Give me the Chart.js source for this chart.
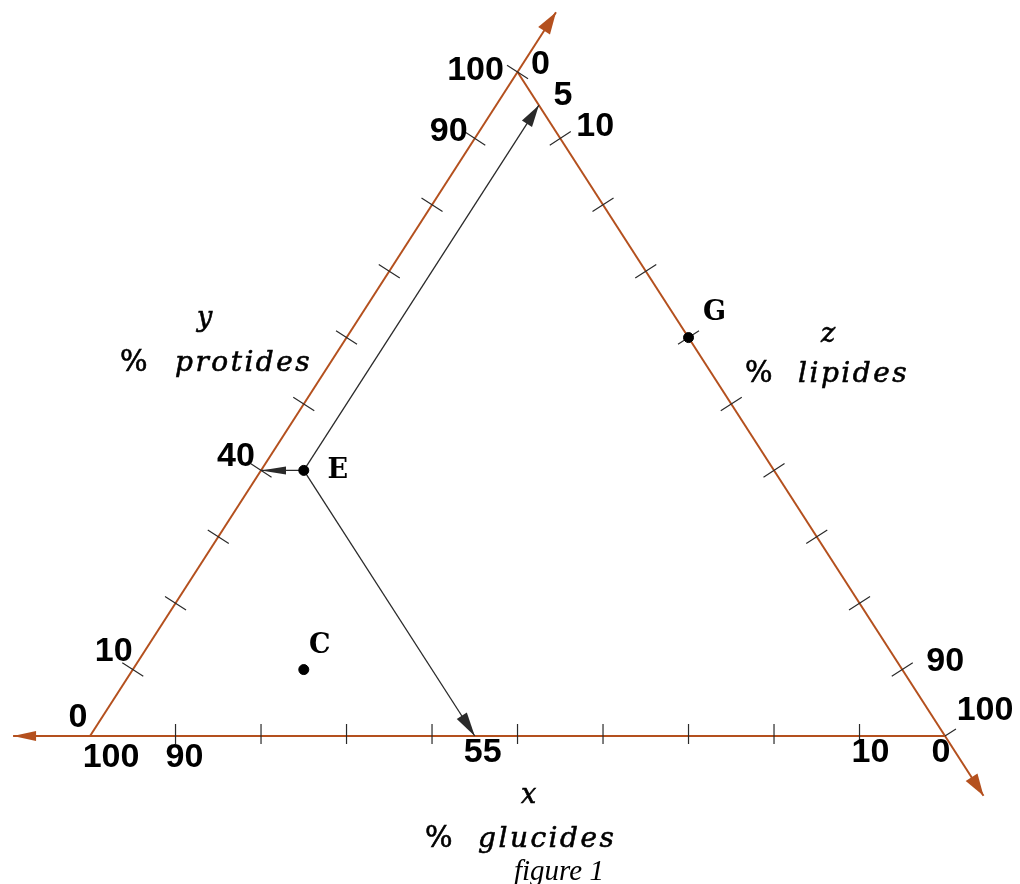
<!DOCTYPE html>
<html>
<head>
<meta charset="utf-8">
<script src="https://cdn.jsdelivr.net/npm/chart.js@4/dist/chart.umd.min.js"></script>
<style>
  html, body { margin: 0; padding: 0; background: #fff; }
  canvas { display: block; }
</style>
</head>
<body>
<canvas id="ternaire" width="1020" height="884"></canvas>
<script>
// points du diagramme (en %)
const pointNames = ['C', 'E', 'G'];
const glucides = [70, 55, 0];   // x
const protides = [10, 40, 60];  // y
const lipides = [20, 5, 40];    // z

// graduations et étiquettes des axes
const tickSteps = [10, 20, 30, 40, 50, 60, 70, 80, 90];
const glucidesLabels = [100, 90, 55, 10, 0];
const protidesLabels = [0, 10, 40, 90, 100];
const lipidesLabels = [0, 5, 10, 90, 100];
const axisOvershoot = 9;

// fenêtre des échelles
const X_MIN = -10.53, X_MAX = 108.77, Y_MIN = -22.29, Y_MAX = 110.84;
const W = 1020, H = 884;
const kx = W / (X_MAX - X_MIN), ky = H / (Y_MAX - Y_MIN);

const AXIS = '#b4501e';
const INK = '#2a2a2a';

// (x, y, z) -> coordonnées du plan
function tern(x, y, z) {
    return { x: z + y / 2, y: y };
}
const onGlucides = v => tern(v, 0, 100 - v);
const onProtides = v => tern(100 - v, v, 0);
const onLipides = v => tern(0, 100 - v, v);

// normale extérieure (en pixels) d'un côté parcouru a -> b
function normal(a, b) {
    const px = (b.x - a.x) * kx, py = -(b.y - a.y) * ky;
    const l = Math.hypot(px, py);
    return { x: -py / l, y: px / l };
}
function ticks(values, place, n, inner, outer) {
    const out = [];
    values.forEach(v => {
        const p = place(v);
        out.push({ x: p.x - n.x * inner / kx, y: p.y + n.y * inner / ky });
        out.push({ x: p.x + n.x * outer / kx, y: p.y - n.y * outer / ky });
        out.push({ x: p.x, y: null });
    });
    return out;
}

const B = onGlucides(100), R = onLipides(100), T = onProtides(100);
const nBottom = normal(B, R), nRight = normal(R, T), nLeft = normal(T, B);

const tickData = [].concat(
    ticks(tickSteps, onGlucides, nBottom, 12, 8),
    ticks(tickSteps.concat([100]), onProtides, nLeft, 12.5, 12.5),
    ticks(tickSteps, onLipides, nRight, 12.5, 12.5),
    ticks([100], onLipides, nRight, 0, 13)
);

const points = pointNames.map((n, i) => tern(glucides[i], protides[i], lipides[i]));
const e = pointNames.indexOf('E');
const E = { x: glucides[e], y: protides[e], z: lipides[e] };

const line = (data, color, width, arrow) => ({
    data: data, showLine: true, borderColor: color, backgroundColor: color,
    borderWidth: width, pointRadius: 0, spanGaps: false, arrow: arrow
});

const datasets = [
    { data: points, showLine: false, pointRadius: 5, pointHoverRadius: 5,
      backgroundColor: '#000', borderColor: '#000' },
    line([points[e], tern(E.x + E.z, E.y, 0)], INK, 1.3, { len: 25, half: 4 }),
    line([points[e], tern(E.x, 0, E.y + E.z)], INK, 1.3, { len: 24, half: 6 }),
    line([points[e], tern(0, E.x + E.y, E.z)], INK, 1.3, { len: 22, half: 6 }),
    line(tickData, INK, 1.2),
    line([R, tern(100 + axisOvershoot, 0, -axisOvershoot)], AXIS, 2, { len: 23, half: 5 }),
    line([B, tern(-axisOvershoot, 100 + axisOvershoot, 0)], AXIS, 2, { len: 22, half: 7 }),
    line([T, tern(0, -axisOvershoot, 100 + axisOvershoot)], AXIS, 2, { len: 22, half: 7 })
];

// étiquettes : décalage en pixels depuis le point d'ancrage
const numFont = 'bold 34px "Liberation Sans", Arial, sans-serif';
const glucidesOffsets = [[21, 22], [9, 22], [8, 17], [11, 17], [-4, 17]];
const protidesOffsets = [[-12, -18], [-19, -18], [-25, -14], [-26, -7], [-42, -1]];
const lipidesOffsets = [[23, -7], [24, -10], [35, -12], [43, -8], [40, -25]];
const pointOffsets = [[16, -24], [34, 1], [26, -25]];

const arrowPlugin = {
    id: 'arrows',
    afterDatasetsDraw(chart) {
        const ctx = chart.ctx;
        chart.data.datasets.forEach((ds, i) => {
            if (!ds.arrow) return;
            const pts = chart.getDatasetMeta(i).data;
            const a = pts[pts.length - 2], b = pts[pts.length - 1];
            const ang = Math.atan2(b.y - a.y, b.x - a.x);
            const { len, half } = ds.arrow;
            ctx.save();
            ctx.translate(b.x, b.y);
            ctx.rotate(ang);
            ctx.fillStyle = ds.borderColor;
            ctx.beginPath();
            ctx.moveTo(0, 0);
            ctx.lineTo(-len, -half);
            ctx.lineTo(-len, half);
            ctx.closePath();
            ctx.fill();
            ctx.restore();
        });
    }
};

const labelPlugin = {
    id: 'labels',
    afterDraw(chart) {
        const ctx = chart.ctx;
        const sx = chart.scales.x, sy = chart.scales.y;
        const put = (text, p, off, font) => {
            ctx.font = font;
            ctx.fillText(text, sx.getPixelForValue(p.x) + off[0], sy.getPixelForValue(p.y) + off[1]);
        };
        ctx.save();
        ctx.fillStyle = '#000';
        ctx.textAlign = 'center';
        ctx.textBaseline = 'middle';
        glucidesLabels.forEach((v, i) => put(String(v), onGlucides(v), glucidesOffsets[i], numFont));
        protidesLabels.forEach((v, i) => put(String(v), onProtides(v), protidesOffsets[i], numFont));
        lipidesLabels.forEach((v, i) => put(String(v), onLipides(v), lipidesOffsets[i], numFont));
        pointNames.forEach((n, i) => put(n, points[i], pointOffsets[i], 'bold 27px "DejaVu Serif", serif'));

        // titres des axes
        ctx.textAlign = 'left';
        ctx.textBaseline = 'alphabetic';
        ctx.strokeStyle = '#000';
        ctx.lineWidth = 0.6;
        const txt = (s, x, y) => { ctx.fillText(s, x, y); ctx.strokeText(s, x, y); };
        const title = (sym, word, sx0, sy0, px, wx, by) => {
            ctx.letterSpacing = '0px';
            ctx.font = 'italic 27px "DejaVu Serif", serif';
            txt(sym, sx0, sy0);
            ctx.font = '29px "DejaVu Serif", serif';
            txt('%', px, by);
            ctx.letterSpacing = '2.5px';
            ctx.font = 'italic 28px "DejaVu Serif", serif';
            txt(word, wx, by);
        };
        title('y', 'protides', 197, 326, 120, 175, 371);
        title('z', 'lipides', 821, 342, 745, 798, 382);
        title('x', 'glucides', 521, 803, 425, 478, 847);
        ctx.letterSpacing = '0px';
        ctx.font = 'italic 29px "Liberation Serif", "Times New Roman", serif';
        ctx.fillText('figure 1', 514, 880);
        ctx.restore();
    }
};

new Chart(document.getElementById('ternaire'), {
    type: 'scatter',
    data: { datasets: datasets },
    options: {
        responsive: false,
        animation: false,
        events: [],
        layout: { padding: 0, autoPadding: false },
        plugins: { legend: { display: false }, tooltip: { enabled: false } },
        scales: {
            x: { type: 'linear', display: false, min: X_MIN, max: X_MAX },
            y: { type: 'linear', display: false, min: Y_MIN, max: Y_MAX }
        }
    },
    plugins: [arrowPlugin, labelPlugin]
});
</script>
</body>
</html>
